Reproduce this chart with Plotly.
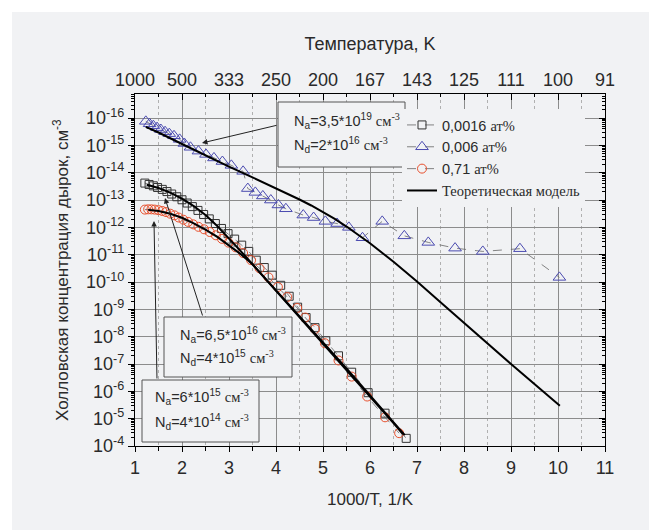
import plotly.graph_objects as go

# ---------------- data (exponents k of the y labels "10^-k") ----------------
x_sq = [1.21, 1.30, 1.39, 1.48, 1.58, 1.68, 1.78, 1.89, 2.00, 2.11, 2.22, 2.34, 2.46, 2.58,
        2.71, 2.84, 2.98, 3.12, 3.27, 3.42, 3.58, 3.75, 3.92, 4.10, 4.28, 4.46, 4.64, 4.83,
        5.06, 5.33, 5.61, 5.96, 6.32, 6.77]
k_sq = [13.62, 13.57, 13.52, 13.46, 13.39, 13.31, 13.22, 13.12, 13.01, 12.89, 12.76, 12.62,
        12.47, 12.31, 12.14, 11.96, 11.77, 11.57, 11.35, 11.12, 10.80, 10.53, 10.25, 9.88,
        9.48, 9.08, 8.70, 8.33, 7.85, 7.30, 6.70, 5.95, 5.20, 4.28]

x_tri = [1.23, 1.31, 1.39, 1.47, 1.55, 1.64, 1.73, 1.83, 1.95, 2.05, 2.18, 2.35, 2.51, 2.68,
         2.86, 3.05, 3.30, 3.40, 3.56, 3.72, 3.89, 4.05, 4.21, 4.58, 4.80, 5.05, 5.30, 5.55,
         5.84, 6.26, 6.73, 7.24, 7.81, 8.40, 9.19, 10.03]
k_tri = [15.88, 15.79, 15.72, 15.65, 15.58, 15.50, 15.43, 15.35, 15.22, 15.07, 14.93, 14.79,
         14.67, 14.54, 14.41, 14.27, 14.05, 13.42, 13.28, 13.15, 13.00, 12.82, 12.68, 12.45,
         12.36, 12.22, 12.14, 12.00, 11.62, 12.22, 11.69, 11.45, 11.24, 11.12, 11.22, 10.17]

x_ci = [1.21, 1.28, 1.35, 1.42, 1.50, 1.58, 1.66, 1.75, 1.84, 1.93, 2.03, 2.13, 2.24, 2.35,
        2.47, 2.59, 2.72, 2.85, 2.99, 3.14, 3.30, 3.47, 3.65, 3.84, 4.04, 4.24, 4.45, 4.62,
        4.83, 5.04, 5.33, 5.61, 5.94, 6.32, 6.62]
k_ci = [12.65, 12.66, 12.66, 12.65, 12.63, 12.60, 12.56, 12.50, 12.44, 12.36, 12.28, 12.20,
        12.11, 12.02, 11.93, 11.83, 11.71, 11.58, 11.44, 11.27, 11.06, 10.80, 10.50, 10.17,
        9.82, 9.45, 9.05, 8.70, 8.28, 7.76, 7.13, 6.54, 5.81, 5.05, 4.47]

# theoretical model curves
x_mA = [1.23, 1.5, 2.0, 2.5, 3.0, 3.5, 4.0, 4.25, 4.5, 4.75, 5.0, 5.25, 5.5, 5.75, 6.0,
        6.5, 7.0, 7.5, 8.0, 9.0, 10.04]
k_mA = [15.68, 15.47, 15.05, 14.63, 14.22, 13.83, 13.44, 13.23, 13.02, 12.80, 12.57, 12.31,
        12.03, 11.73, 11.42, 10.74, 10.02, 9.26, 8.50, 7.00, 5.47]
x_mB = [1.25, 1.5, 1.75, 2.0, 2.25, 2.5, 2.75, 3.0, 3.25, 3.5, 4.0, 4.5, 5.0, 5.5, 6.0, 6.5, 6.74]
k_mB = [13.56, 13.44, 13.27, 13.05, 12.78, 12.45, 12.05, 11.60, 11.13, 10.65, 9.70, 8.78,
        7.82, 6.84, 5.85, 4.87, 4.40]
x_mC = [1.28, 1.5, 1.75, 2.0, 2.25, 2.5, 2.75, 3.0, 3.25, 3.5, 4.0, 4.5, 5.0, 5.5, 6.0, 6.5, 6.70]
k_mC = [12.64, 12.60, 12.50, 12.35, 12.15, 11.92, 11.65, 11.35, 11.02, 10.65, 9.68, 8.74,
        7.78, 6.80, 5.82, 4.84, 4.44]

x_ticks = [1, 2, 3, 4, 5, 6, 7, 8, 9, 10, 11]
temp_labels = ["1000", "500", "333", "250", "200", "167", "143", "125", "111", "100", "91"]
y_exps = [4, 5, 6, 7, 8, 9, 10, 11, 12, 13, 14, 15, 16]

series_names = ["0,0016", "0,006", "0,71"]

# ---------------- styling ----------------
BG = "#f1f2f4"
SANS = "Liberation Sans, Arial, sans-serif"
SERIF = "Liberation Serif"
TXT = "#2a2a2a"
OFF = 8  # page body margin
W, H = 657, 530
L, T = 135 - OFF, 94 - OFF
R = W - (605 - OFF)
B = H - (446 - OFF)
PW, PH = W - L - R, H - T - B


def px(xp):  # page pixel -> paper fraction
    return (xp - OFF - L) / PW


def py(yp):
    return (H - B - (yp - OFF)) / PH


def conc(k):
    return [10 ** v for v in k]


def serif(s):
    return "<span style='font-family:%s'>%s</span>" % (SERIF, s)


fig = go.Figure()

fig.add_trace(go.Scatter(
    x=x_sq, y=conc(k_sq), mode="lines+markers",
    name=series_names[0] + " " + serif("ат%"),
    line=dict(color="#666666", width=0.8, dash="dash"),
    marker=dict(symbol="square-open", size=8, color="#333333", line=dict(width=1))))
fig.add_trace(go.Scatter(
    x=x_tri, y=conc(k_tri), mode="lines+markers",
    name=series_names[1] + " " + serif("ат%"),
    line=dict(color="#666666", width=0.8, dash="dash"),
    marker=dict(symbol="triangle-up-open", size=11, color="#4b4bb0", line=dict(width=1))))
fig.add_trace(go.Scatter(
    x=x_ci, y=conc(k_ci), mode="lines+markers",
    name=series_names[2] + " " + serif("ат%"),
    line=dict(color="#666666", width=0.8, dash="dash"),
    marker=dict(symbol="circle-open", size=9, color="#e8502e", line=dict(width=1))))
fig.add_trace(go.Scatter(
    x=x_mA, y=conc(k_mA), mode="lines", name=serif("Теоретическая модель"),
    line=dict(color="black", width=2)))
fig.add_trace(go.Scatter(
    x=x_mB, y=conc(k_mB), mode="lines", showlegend=False,
    line=dict(color="black", width=2)))
fig.add_trace(go.Scatter(
    x=x_mC, y=conc(k_mC), mode="lines", showlegend=False,
    line=dict(color="black", width=2)))
# empty traces to carry the top and right axes
fig.add_trace(go.Scatter(x=[None], y=[None], xaxis="x2", yaxis="y", showlegend=False,
                         hoverinfo="skip"))
fig.add_trace(go.Scatter(x=[None], y=[None], xaxis="x", yaxis="y2", showlegend=False,
                         hoverinfo="skip"))

ytickvals = [10 ** e for e in y_exps]
yticktext = ["10<sup>-%d</sup>" % e for e in y_exps]
yminor = [m * 10 ** e for e in range(4, 17) for m in range(2, 10)]

axis_common = dict(showline=True, linecolor="black", linewidth=1.3, tickcolor="black",
                   automargin=False,
                   tickfont=dict(family=SANS, size=18, color=TXT))

fig.update_layout(
    width=W, height=H,
    margin=dict(l=L, r=R, t=T, b=B, autoexpand=False),
    paper_bgcolor=BG, plot_bgcolor=BG,
    font=dict(family=SANS, color=TXT),
    showlegend=True,
    legend=dict(x=px(402), y=py(109), xanchor="left", yanchor="top",
                bgcolor=BG, borderwidth=0, tracegroupgap=0,
                font=dict(family=SANS, size=14.5, color=TXT)),
    xaxis=dict(range=[1, 11], tickvals=x_ticks, ticks="outside", ticklen=5,
               showgrid=True, gridcolor="#8c8c8c", gridwidth=1, zeroline=False,
               minor=dict(dtick=0.5, tick0=1, ticks="outside", ticklen=4, tickcolor="black",
                          showgrid=True, gridcolor="#b0b0b0", griddash="dot", gridwidth=1),
               title=dict(text="1000/T, 1/K", font=dict(family=SANS, size=17, color=TXT),
                          standoff=16),
               **axis_common),
    xaxis2=dict(range=[1, 11], overlaying="x", side="top", anchor="y",
                tickvals=x_ticks, ticktext=temp_labels, ticks="inside", ticklen=6,
                showgrid=False, zeroline=False,
                minor=dict(dtick=0.5, tick0=1, ticks="inside", ticklen=3, tickcolor="black"),
                title=dict(text="Температура, K", font=dict(family=SANS, size=18, color=TXT),
                           standoff=14),
                **axis_common),
    yaxis=dict(type="log", range=[4, 16.88], tickmode="array", tickvals=ytickvals,
               ticktext=yticktext, ticks="outside", ticklen=6,
               showgrid=True, gridcolor="#8c8c8c", gridwidth=1, zeroline=False,
               minor=dict(tickmode="array", tickvals=yminor, ticks="outside", ticklen=3,
                          tickcolor="black", showgrid=False),
               **axis_common),
    yaxis2=dict(type="log", range=[4, 16.88], overlaying="y", side="right", anchor="x",
                tickmode="array", tickvals=ytickvals, ticks="inside", ticklen=6,
                showticklabels=False, showgrid=False, zeroline=False,
                minor=dict(tickmode="array", tickvals=yminor, ticks="inside", ticklen=3,
                           tickcolor="black", showgrid=False),
                **axis_common),
)

# y-axis title as a rotated annotation
fig.add_annotation(xref="paper", yref="paper", x=px(61), y=0.5,
                   text="Холловская концентрация дырок, см<sup>-3</sup>", textangle=-90,
                   showarrow=False, xanchor="center", yanchor="middle",
                   font=dict(family=SANS, size=17, color=TXT))

# white page strips (top and left), page 8..12 px
fig.add_shape(type="rect", xref="paper", yref="paper", x0=px(0), x1=px(W + 20), y0=py(12),
              y1=py(0), fillcolor="white", line=dict(width=0), layer="below")
fig.add_shape(type="rect", xref="paper", yref="paper", x0=px(0), x1=px(12), y0=py(H + 20),
              y1=py(0), fillcolor="white", line=dict(width=0), layer="below")

# annotation boxes (page pixel coordinates)
boxes = [
    ((278, 102, 405, 167), 292, (121, 145),
     ["N<sub>a</sub>=3,5*10<sup>19</sup> " + serif("см<sup>-3</sup>"),
      "N<sub>d</sub>=2*10<sup>16</sup> " + serif("см<sup>-3</sup>")]),
    ((164, 317, 292, 377), 178, (335, 358),
     ["N<sub>a</sub>=6,5*10<sup>16</sup> " + serif("см<sup>-3</sup>"),
      "N<sub>d</sub>=4*10<sup>15</sup> " + serif("см<sup>-3</sup>")]),
    ((142, 380, 259, 442), 153, (397, 422),
     ["N<sub>a</sub>=6*10<sup>15</sup> " + serif("см<sup>-3</sup>"),
      "N<sub>d</sub>=4*10<sup>14</sup> " + serif("см<sup>-3</sup>")]),
]
for (x0, y0, x1, y1), tx, tys, lines in boxes:
    fig.add_shape(type="rect", xref="paper", yref="paper", x0=px(x0), x1=px(x1),
                  y0=py(y1), y1=py(y0), fillcolor=BG, line=dict(color="#555555", width=1),
                  layer="above")
    for ty, t in zip(tys, lines):
        fig.add_annotation(xref="paper", yref="paper", x=px(tx), y=py(ty), text=t,
                           showarrow=False, xanchor="left", yanchor="middle",
                           font=dict(family=SANS, size=14.5, color=TXT))

# arrows (head position, tail position in page px)
arrows = [((202, 143), (278, 125)), ((165, 198), (203, 317)), ((154, 221), (157, 380))]
for (hx, hy), (tx, ty) in arrows:
    fig.add_annotation(xref="paper", yref="paper", x=px(hx), y=py(hy), text="",
                       showarrow=True, arrowhead=2, arrowsize=1.1, arrowwidth=1,
                       arrowcolor="#222222", ax=tx - hx, ay=ty - hy)

fig.write_html("out.html")
